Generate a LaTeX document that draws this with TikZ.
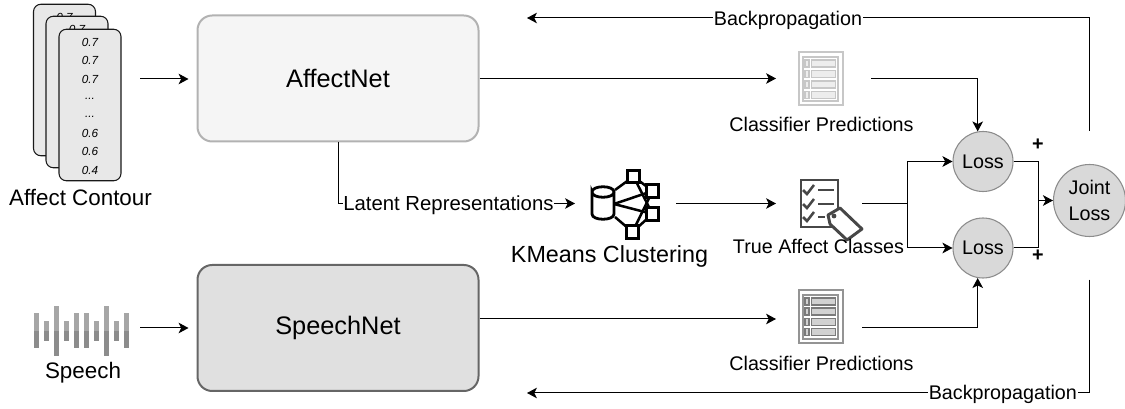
\documentclass[tikz,border=0pt]{standalone}
\usepackage{fontspec}
\setmainfont{Liberation Sans}
\usetikzlibrary{arrows.meta,shapes}
\def\u{0.75pt}
\definecolor{cardgray}{HTML}{E8E8E8}
\definecolor{waveup}{HTML}{A6A6A6}
\definecolor{wavedown}{HTML}{8C8C8C}
\tikzstyle{card}=[rectangle,draw=black!90,fill=cardgray,rounded corners=5.5pt,minimum width=62*\u,minimum height=151.5*\u,line width=0.8pt]
\tikzstyle{netbox}=[rectangle,rounded corners=11pt,minimum width=281*\u,minimum height=126*\u,line width=1.5pt,font=\fontsize{19}{22}\selectfont]
\tikzstyle{lossnode}=[circle,draw=black!45,fill=black!15,minimum size=60*\u,inner sep=0pt,line width=0.8pt,align=center,font=\fontsize{14.8}{19}\selectfont]
\tikzstyle{slot}=[rectangle,inner sep=0pt,outer sep=0pt]
\tikzstyle{weight}=[font=\fontsize{14.8}{17}\selectfont,inner sep=0pt]
\tikzstyle{onwire}=[weight,fill=white,inner sep=0.5pt]
\tikzstyle{digit}=[font=\fontsize{8.8}{10}\selectfont\itshape,inner sep=0pt]
\tikzstyle{wire}=[draw,line width=0.75pt]
\tikzstyle{edge}=[wire,-{Stealth[length=7.5pt,width=8pt,inset=2pt]}]
\tikzstyle{kmbox}=[rectangle,draw=black,fill=white,line width=1.9pt,minimum size=12.5*\u,inner sep=0pt]

\begin{document}
\begin{tikzpicture}[x=0.75pt,y=-0.75pt]
    \useasboundingbox (0,0) rectangle (1125,409);

    % affect contour cards
    \foreach \name/\cx/\cy in {cardA/64.5/80, cardB/77/92}{
        \node[card] (\name) at (\cx,\cy) {};
        \node[digit] (\name-top) at (\cx,\cy-63) {0.7};
    }
    \node[card] (cardC) at (90,105) {};
    \foreach \dy/\val [count=\i] in {-63/0.7, -45/0.7, -26/0.7, -6/{...}, 12/{...}, 28/0.6, 46/0.6, 65/0.4}
        \node[digit] (cardC-\i) at (90,105+\dy) {\val};
    \node[font=\fontsize{16.8}{20}\selectfont,inner sep=0pt] (contourtext) at (80.5,198) {Affect Contour};

    % speech wave
    \foreach \i/\h in {0/17.5, 1/10, 2/25, 3/10, 4/17.5, 5/17.5, 6/10, 7/25, 8/10, 9/17.5}{
        \fill[waveup] (33.5+10.06*\i,330.7-\h) rectangle (38.5+10.06*\i,330.7);
        \fill[wavedown] (33.5+10.06*\i,330.7) rectangle (38.5+10.06*\i,330.7+\h);
    }
    \node[font=\fontsize{16.8}{20}\selectfont,inner sep=0pt] (speechtext) at (83,373) {Speech};

    \node[netbox,draw=black!30,fill=black!4] (affectnet) at (338,78.5) {AffectNet};
    \node[netbox,draw=black!60,fill=black!12] (speechnet) at (338,328) {SpeechNet};

    % classifier icons
    \foreach \itop/\band/\cell/\rim/\ya/\yb/\yc/\yd in {52/black!22/black!7/black!22/63.5/74/84.5/95, 290/black!42/black!18/black!52/301.5/311.5/322/332}{
        \draw[draw=\band,line width=1.5pt,fill=white] (798.5,\itop+.5) rectangle (842.5,\itop+53.5);
        \draw[draw=\band,line width=0.8pt] (803,\itop+5) rectangle (838,\itop+49);
        \foreach \yy in {\ya,\yb,\yc,\yd}{
            \draw[draw=\rim,line width=1pt,fill=\cell] (805,\yy-3.5) rectangle (809,\yy+3.5);
            \draw[draw=\rim,line width=1pt,fill=\cell] (811.5,\yy-3.5) rectangle (835.5,\yy+3.5);
        }
    }
    \node[weight] (predAtext) at (821.5,124) {Classifier Predictions};
    \node[weight] (predBtext) at (821.5,363) {Classifier Predictions};

    % kmeans icon
    \draw[line width=2.1pt,fill=white] (592,192) .. controls (592,185) and (614,185) .. (614,192) .. controls (614,199) and (592,199) .. (592,192) -- (592,214) .. controls (592,221) and (614,221) .. (614,214) -- (614,192);
    \coordinate (kmA) at (633.5,176.5);
    \coordinate (kmB) at (652.5,191);
    \coordinate (kmC) at (652.5,214);
    \coordinate (kmD) at (632.5,232);
    \coordinate (kmup) at (615,190);
    \coordinate (kmmid) at (614,204);
    \coordinate (kmlow) at (615,217);
    \foreach \s/\t in {kmup/kmA, kmA/kmB, kmA/kmC, kmD/kmB, kmD/kmC, kmmid/kmB, kmmid/kmC, kmlow/kmD}
        \draw[line width=1.9pt] (\s) -- (\t);
    \foreach \s in {kmA,kmB,kmC,kmD}
        \node[kmbox] (\s box) at (\s) {};
    \node[font=\fontsize{17.5}{20}\selectfont,inner sep=0pt] (clusterstext) at (609.5,256) {KMeans Clustering};

    % checklist icon
    \draw[black!72,line width=2.2pt] (801,180) rectangle (838,227);
    \foreach \yy/\xe in {190/834, 204/834, 217/825}{
        \draw[black!72,line width=1.9pt] (803,\yy) -- (807,\yy+4) -- (814,\yy-5);
        \draw[black!72,line width=1.9pt] (818,\yy) -- (\xe,\yy);
    }
    \draw[black!72,line width=2.2pt,fill=white,line join=round] (828,215) -- (840,208) -- (862,229) -- (847,240) -- (830,224) -- cycle;
    \fill[black!72] (834,216) circle (2.4);
    \node[weight] (classestext) at (818.5,246) {True Affect Classes};

    % slots around the icons, these set the gaps of the connectors
    \node[slot,minimum width=107*\u,minimum height=30*\u] (contour) at (86.5,79) {};
    \node[slot,minimum width=107*\u,minimum height=30*\u] (speech) at (86.5,328) {};
    \node[slot,minimum width=95*\u,minimum height=30*\u] (predA) at (823.5,78.5) {};
    \node[slot,minimum width=86*\u,minimum height=18*\u] (predB) at (819,319) {};
    \node[slot,minimum width=101*\u,minimum height=30*\u] (clusters) at (625.5,203.5) {};
    \node[slot,minimum width=86*\u,minimum height=30*\u] (classes) at (819,203.5) {};

    \node[lossnode] (lossA) at (983,161.5) {Loss};
    \node[lossnode] (lossB) at (983,248) {Loss};
    \node[lossnode,minimum size=72*\u] (joint) at (1089.5,200.5) {Joint\\Loss};
    \node[weight,font=\fontsize{14.8}{17}\selectfont\bfseries] (plusA) at (1038,145) {+};
    \node[weight,font=\fontsize{14.8}{17}\selectfont\bfseries] (plusB) at (1038,256) {+};

    \coordinate (branch) at (907,203.5);
    \coordinate (merge) at (1038,200.5);
    \coordinate (backA) at (527,18);
    \coordinate (backB) at (527,393);

    \path[edge,shorten >=6pt] (contour.east) -- (affectnet.west |- contour.east);
    \path[edge,shorten >=6pt] (speech.east) -- (speechnet.west);
    \path[edge] (affectnet.east) -- (predA.west);
    \path[edge] (speechnet.east |- predB.west) -- (predB.west);
    \path[edge] (predA.east) -| (lossA.100);
    \path[edge] (predB.south east) -| (lossB.260);
    \path[edge] (affectnet.south) |- node[onwire,pos=.733,yshift=-1.5pt] (latent) {\fontsize{15.25}{18}\selectfont Latent Representations} (clusters.west);
    \path[edge] (clusters.east) -- (classes.west);
    \path[edge] (classes.east) -- (branch) |- (lossA.west);
    \path[edge] (branch) |- (lossB.west);
    \path[wire] (lossA.east) -| (merge);
    \path[wire] (lossB.east) -| (merge);
    \path[edge] (merge) -- (joint.west);
    \path[edge,shorten <=25pt] (joint.north) |- node[onwire,pos=.768,yshift=-2pt] (backtextA) {Backpropagation} (backA);
    \path[edge,shorten <=32pt] (joint.south) |- node[onwire,pos=.577,yshift=-1pt] (backtextB) {Backpropagation} (backB);
\end{tikzpicture}
\end{document}
